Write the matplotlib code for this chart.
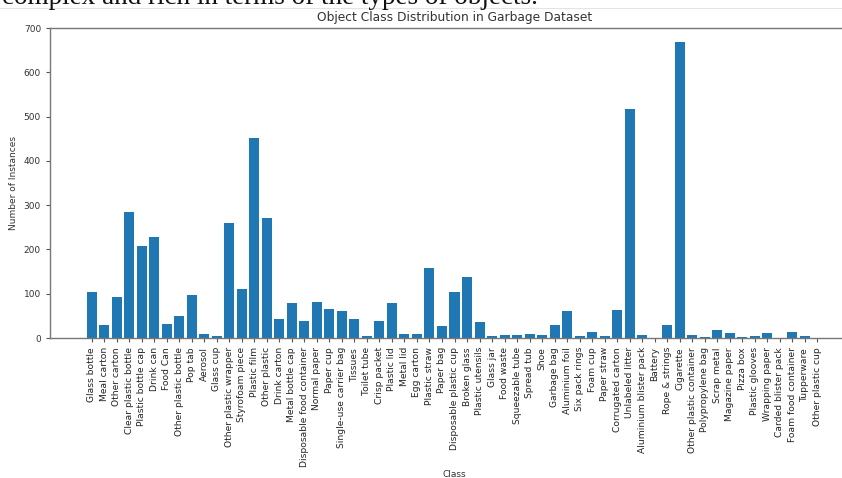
import matplotlib
matplotlib.use("Agg")
import matplotlib.pyplot as plt
from matplotlib.lines import Line2D

# class names in dataset order
classes = [
    "Glass bottle", "Meal carton", "Other carton", "Clear plastic bottle",
    "Plastic bottle cap", "Drink can", "Food Can", "Other plastic bottle",
    "Pop tab", "Aerosol", "Glass cup", "Other plastic wrapper",
    "Styrofoam piece", "Plastic film", "Other plastic", "Drink carton",
    "Metal bottle cap", "Disposable food container", "Normal paper",
    "Paper cup", "Single-use carrier bag", "Tissues", "Toilet tube",
    "Crisp packet", "Plastic lid", "Metal lid", "Egg carton",
    "Plastic straw", "Paper bag", "Disposable plastic cup", "Broken glass",
    "Plastic utensils", "Glass jar", "Food waste", "Squeezable tube",
    "Spread tub", "Shoe", "Garbage bag", "Aluminium foil", "Six pack rings",
    "Foam cup", "Paper straw", "Corrugated carton", "Unlabeled litter",
    "Aluminium blister pack", "Battery", "Rope & strings", "Cigarette",
    "Other plastic container", "Polypropylene bag", "Scrap metal",
    "Magazine paper", "Pizza box", "Plastic glooves", "Wrapping paper",
    "Carded blister pack", "Foam food container", "Tupperware",
    "Other plastic cup",
]

# number of annotated instances per class
counts = [
    104, 30, 92, 285, 208, 229, 32, 50, 98, 8,
    5, 260, 111, 451, 272, 44, 80, 38, 81, 66,
    60, 42, 4, 39, 78, 8, 10, 157, 27, 105,
    138, 36, 5, 7, 7, 8, 7, 30, 62, 4,
    13, 5, 63, 518, 6, 1, 29, 668, 6, 2,
    19, 12, 3, 4, 11, 1, 14, 5, 1,
]

W, H = 842, 478
fig = plt.figure(figsize=(W / 100, H / 100), dpi=100)

# the plot runs past the right edge of the canvas
ax = fig.add_axes([50 / W, 1 - 338 / H, 809 / W, 310 / H])
ax.bar(classes, counts, color="#1f77b4")
ax.set_ylim(0, 700)
ax.set_title("Object Class Distribution in Garbage Dataset", fontsize=8.8, color="#333333", pad=5)
ax.set_xlabel("Class", fontsize=6.5, color="#333333", labelpad=2)
ax.set_ylabel("Number of Instances", fontsize=6.5, color="#333333")
ax.tick_params(axis="x", labelrotation=90, labelsize=6.6, labelcolor="#222222",
               length=3, width=0.8, color="#555555")
ax.tick_params(axis="y", labelsize=6.5, labelcolor="#333333",
               length=3, width=0.8, color="#555555")
for s in ax.spines.values():
    s.set_color("#777777")
    s.set_linewidth(1.0)

# tail of the caption line above the figure
fig.text(2 / W, 1 - 4 / H, "complex and rich in terms of the types of objects.",
         family="Liberation Serif", fontsize=19.5, va="baseline", ha="left", color="#111111")
fig.add_artist(Line2D([0, 1], [1 - 7.5 / H, 1 - 7.5 / H], transform=fig.transFigure,
                      color="#e4e4e4", linewidth=0.8))

fig.savefig("out.png", dpi=100)
